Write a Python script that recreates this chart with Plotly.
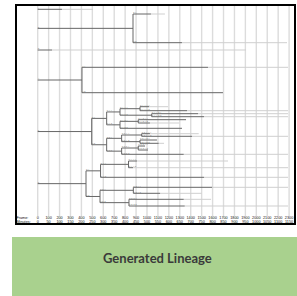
import plotly.graph_objects as go

# ---------------- data ----------------
frame_ticks = [0, 100, 200, 300, 400, 500, 600, 700, 800, 900, 1000, 1100,
               1200, 1300, 1400, 1500, 1600, 1700, 1800, 1900, 2000, 2100, 2200, 2300]
minute_ticks = [0, 50, 100, 150, 200, 250, 300, 350, 400, 450, 500, 550,
                600, 650, 700, 750, 800, 850, 900, 950, 1000, 1050, 1100, 1150]

# cell names (parent = name without last ".k")
cells = ["1", "2", "2.1", "2.2", "3", "4", "4.1", "4.2",
         "5", "5.1", "5.1.1", "5.1.1.1", "5.1.1.1.1", "5.1.1.1.2",
         "5.1.1.2", "5.1.1.2.1", "5.1.1.2.2",
         "5.1.2", "5.1.2.1", "5.1.2.1.1", "5.1.2.1.2", "5.1.2.2",
         "5.2", "5.2.1", "5.2.1.1", "5.2.1.1.1", "5.2.1.1.2",
         "5.2.1.2", "5.2.1.2.1", "5.2.1.2.2",
         "5.2.2", "5.2.2.1", "5.2.2.1.1", "5.2.2.1.2", "5.2.2.2",
         "6", "6.1", "6.1.1", "6.1.1.1", "6.1.1.2", "6.1.2",
         "6.2", "6.2.1", "6.2.1.1", "6.2.1.2", "6.2.2", "6.2.2.1", "6.2.2.2"]

# frame where each cell divides / its solid track ends
cell_end = [222, 872, 1036, 1320, 131, 405, 1558, 1695,
            494, 631, 753, 936, 1019, 1366,
            1043, 1467, 1522,
            753, 920, 1357, 1027, 1320,
            631, 768, 951, 1027, 1412,
            936, 1091, 1107,
            768, 920, 982, 1009, 1336,
            442, 575, 831, 908, 872, 1522,
            570, 875, 1595, 1120, 835, 1336, 1345]

# frame where the faded (tracked, undivided) extension ends, None = none
cell_fade_end = [506, None, 1164, 2281, 1906, None, 2290, None,
                 None, None, None, None, 1192, 2290,
                 None, 2290, 2290,
                 None, None, None, 1294, None,
                 None, None, None, 1473, 2290,
                 None, None, 1156,
                 None, None, None, None, 2290,
                 None, None, None, 1741, 2290, 2290,
                 None, None, 2290, 1500, None, 1586, 2290]

# vertical row of each leaf cell in the lineage drawing
leaf_row = {"1": 9.3, "2.1": 14, "2.2": 42.7, "3": 50, "4.1": 67.3, "4.2": 92.7,
            "5.1.1.1.1": 106.7, "5.1.1.1.2": 110.7, "5.1.1.2.1": 113.7, "5.1.1.2.2": 116.7,
            "5.1.2.1.1": 119.7, "5.1.2.1.2": 123, "5.1.2.2": 128.3,
            "5.2.1.1.1": 133.7, "5.2.1.1.2": 136.3, "5.2.1.2.1": 140, "5.2.1.2.2": 143.3,
            "5.2.2.1.1": 146, "5.2.2.1.2": 150, "5.2.2.2": 154.3,
            "6.1.1.1": 161, "6.1.1.2": 167.7, "6.1.2": 177.3,
            "6.2.1.1": 187.3, "6.2.1.2": 193.3, "6.2.2.1": 199.3, "6.2.2.2": 206}

title_text = "Generated Lineage"

# ---------------- tree layout ----------------
end_of = dict(zip(cells, cell_end))
fade_of = dict(zip(cells, cell_fade_end))
children = {c: [] for c in cells}
parent_of = {}
for c in cells:
    if "." in c:
        p = c.rsplit(".", 1)[0]
        parent_of[c] = p
        children[p].append(c)
    else:
        parent_of[c] = None

row_of = {}
def get_row(c):
    if c in row_of:
        return row_of[c]
    if not children[c]:
        row_of[c] = leaf_row[c]
    else:
        rs = [get_row(k) for k in children[c]]
        row_of[c] = (min(rs) + max(rs)) / 2
    return row_of[c]
for c in cells:
    get_row(c)

dark_x, dark_y, fade_x, fade_y = [], [], [], []
for c in cells:
    start = end_of[parent_of[c]] if parent_of[c] else 0
    y = row_of[c]
    dark_x += [start, end_of[c], None]
    dark_y += [y, y, None]
    if children[c]:
        rs = [row_of[k] for k in children[c]]
        dark_x += [end_of[c], end_of[c], None]
        dark_y += [min(rs), max(rs), None]
    if fade_of[c] is not None:
        fade_x += [end_of[c], fade_of[c], None]
        fade_y += [y, y, None]

TOP, GRID_BOTTOM, FRAME_ROW, MIN_ROW, BOTTOM = 5, 216, 218.4, 221.8, 224

grid_x, grid_y = [], []
for f in frame_ticks:
    grid_x += [f, f, None]
    grid_y += [TOP, GRID_BOTTOM, None]

fig = go.Figure()
fig.add_trace(go.Scatter(x=grid_x, y=grid_y, mode="lines",
                         line=dict(color="#dcdcdc", width=1.4), hoverinfo="skip"))
fig.add_trace(go.Scatter(x=fade_x, y=fade_y, mode="lines",
                         line=dict(color="#cfcfcf", width=1), hoverinfo="skip"))
fig.add_trace(go.Scatter(x=dark_x, y=dark_y, mode="lines",
                         line=dict(color="#666666", width=1), hoverinfo="skip"))
# tiny cell labels at the start of each branch
lab_x = [end_of[parent_of[c]] if parent_of[c] else 0 for c in cells]
lab_y = [row_of[c] for c in cells]
fig.add_trace(go.Scatter(x=lab_x, y=lab_y, mode="text", text=cells,
                         textposition="top right",
                         textfont=dict(size=2.5, color="#777777"), hoverinfo="skip"))
# axis label rows
axis_font = dict(size=3.8, color="#111111", family="Liberation Sans")
fig.add_trace(go.Scatter(x=frame_ticks, y=[FRAME_ROW] * len(frame_ticks), mode="text",
                         text=[str(v) for v in frame_ticks], textfont=axis_font,
                         hoverinfo="skip"))
fig.add_trace(go.Scatter(x=frame_ticks, y=[MIN_ROW] * len(minute_ticks),
                         mode="text", text=[str(v) for v in minute_ticks],
                         textfont=axis_font, hoverinfo="skip"))
fig.add_trace(go.Scatter(x=[-195, -195], y=[FRAME_ROW, MIN_ROW], mode="text",
                         text=["Frame:", "Minutes:"], textposition="middle right",
                         textfont=axis_font, hoverinfo="skip"))

W, H = 297, 296
ml, mr, mt, mb = 16, 2, 5, 72
pw, ph = W - ml - mr, H - mt - mb

def px_x(p):
    return (p - ml) / pw
def px_y(p):
    return (H - mb - p) / ph

fig.update_layout(
    width=W, height=H,
    margin=dict(l=ml, r=mr, t=mt, b=mb),
    plot_bgcolor="white", paper_bgcolor="white",
    showlegend=False,
    xaxis=dict(range=[-198.5, 2354], visible=False, fixedrange=True),
    yaxis=dict(range=[BOTTOM, TOP], visible=False, fixedrange=True),
    shapes=[
        dict(type="rect", xref="paper", yref="paper", x0=0, x1=1, y0=0, y1=1,
             line=dict(color="black", width=2), fillcolor="rgba(0,0,0,0)"),
        dict(type="rect", xref="paper", yref="paper",
             x0=px_x(12), x1=px_x(300), y0=px_y(300), y1=px_y(237),
             line=dict(width=0), fillcolor="#a9d18e", layer="below"),
    ],
    annotations=[
        dict(xref="paper", yref="paper", x=px_x(157), y=px_y(258),
             text="<b>" + title_text + "</b>", showarrow=False,
             font=dict(family="Lato", size=13, color="#3a3a3a"),
             xanchor="center", yanchor="middle"),
    ],
)

fig.write_html("out.html", config={"displayModeBar": False},
               post_script="document.body.style.margin='0';document.body.style.padding='0';"
                           "document.body.style.overflow='hidden';")
